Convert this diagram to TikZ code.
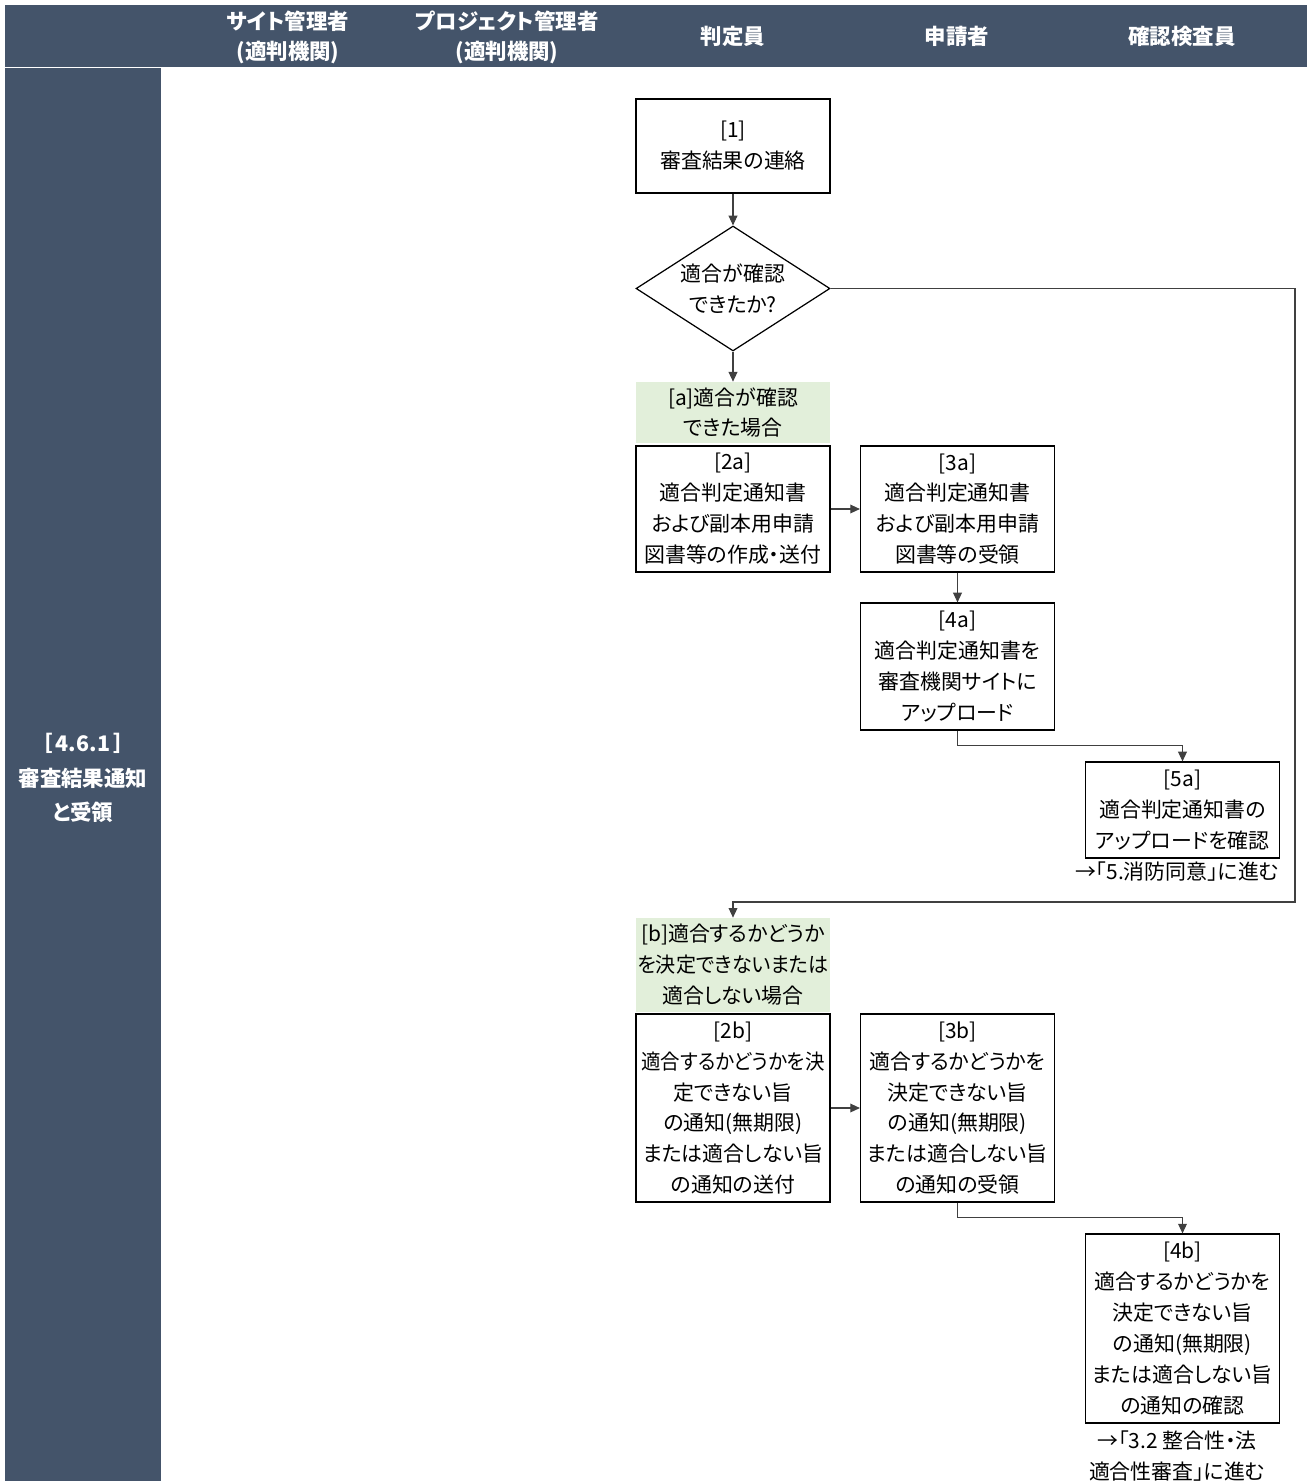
\documentclass[tikz,border=0pt]{standalone}
\usepackage{fontspec}
\setmainfont{Noto Sans CJK JP}[RawFeature=+palt]
\newfontfamily\widejp{Noto Sans CJK JP}
\usepackage{xcolor}
\usetikzlibrary{shapes.geometric,arrows.meta,calc}
\definecolor{slate}{HTML}{44546A}
\definecolor{palegreen}{HTML}{E2EFDA}
\definecolor{linegray}{HTML}{404040}

\begin{document}
\begin{tikzpicture}[x=0.02cm,y=-0.02cm,
  txt/.style={font=\fontsize{11.9}{17.6}\selectfont,align=center,inner sep=0pt},
  head/.style={txt,text=white,font=\fontsize{12.2}{17}\selectfont\bfseries},
  stepbox/.style={txt,draw=black,line width=0.7pt,text width=3.88cm,minimum width=3.88cm},
  casebox/.style={txt,fill=palegreen,text width=3.88cm,minimum width=3.88cm},
  flow/.style={draw=linegray,line width=0.6pt,-{Triangle[length=5.5pt,width=5pt]}}]
\useasboundingbox (0,0) rectangle (1307,1481);
% header and lane
\fill[slate] (5,5) rectangle (1307,67);
\fill[slate] (5,68) rectangle (161,1481);
\node[head] (hsite) at (288,37) {サイト管理者\\(適判機関)};
\node[head] (hproj) at (507,37) {プロジェクト管理者\\(適判機関)};
\node[head] (hjudge) at (733,36) {判定員};
\node[head] (happ) at (957,36) {申請者};
\node[head] (hinsp) at (1182,36) {確認検査員};
\node[head,font=\fontsize{12.2}{19.6}\selectfont\bfseries] (lane) at (83,778) {［\,4.6.1\,］\\審査結果通知\\と受領};
%
\node[stepbox,minimum height=1.88cm] (s1) at (733,146) {[1]\\審査結果の連絡};
\node[txt,draw=black,line width=0.7pt,diamond,aspect=1.55,minimum width=3.88cm,minimum height=2.5cm] (dec) at (733,288.5) {適合が確認\\できたか?};
% case a
\node[casebox,minimum height=1.22cm] (ca) at (733,412.5) {[a]適合が確認\\できた場合};
\node[stepbox,minimum height=2.52cm] (s2a) at (733,509) {[2a]\\適合判定通知書\\および副本用申請\\図書等の作成・送付};
\node[stepbox,minimum height=2.52cm] (s3a) at (957.5,509) {[3a]\\適合判定通知書\\および副本用申請\\図書等の受領};
\node[stepbox,minimum height=2.54cm] (s4a) at (957.5,666.5) {[4a]\\適合判定通知書を\\審査機関サイトに\\アップロード};
\node[stepbox,minimum height=1.92cm] (s5a) at (1182.5,810) {[5a]\\適合判定通知書の\\アップロードを確認};
\node[txt] (n5a) at (1177,872) {→「5.消防同意」に進む};
% case b
\node[casebox,minimum height=1.88cm] (cb) at (733,965) {[b]適合するかどうか\\\scalebox{0.96}[1]{を決定できないまたは}\\適合しない場合};
\node[stepbox,minimum height=3.76cm] (s2b) at (733,1108) {[2b]\\\scalebox{0.93}[1]{適合するかどうかを決}\\定できない旨\\の通知(無期限)\\または適合しない旨\\の通知の送付};
\node[stepbox,minimum height=3.76cm] (s3b) at (957.5,1108) {[3b]\\適合するかどうかを\\決定できない旨\\の通知(無期限)\\または適合しない旨\\の通知の受領};
\node[stepbox,minimum height=3.78cm] (s4b) at (1182.5,1328.5) {[4b]\\適合するかどうかを\\決定できない旨\\の通知(無期限)\\または適合しない旨\\の通知の確認};
\node[txt] (n4b) at (1177,1456) {→「3.2 整合性・法\\適合性審査」に進む};
% connectors
\coordinate (turn) at (1295,902);
\draw[flow] (s1) -- (dec);
\draw[flow] (dec) -- (ca);
\draw[flow] (s2a) -- (s3a);
\draw[flow] (s3a) -- (s4a);
\draw[flow] (s4a.south) -- ++(0,15) -| (s5a.north);
\draw[flow] (dec.east) -| (turn) -| (cb.north);
\draw[flow] (s2b) -- (s3b);
\draw[flow] (s3b.south) -- ++(0,15) -| (s4b.north);
\end{tikzpicture}
\end{document}
